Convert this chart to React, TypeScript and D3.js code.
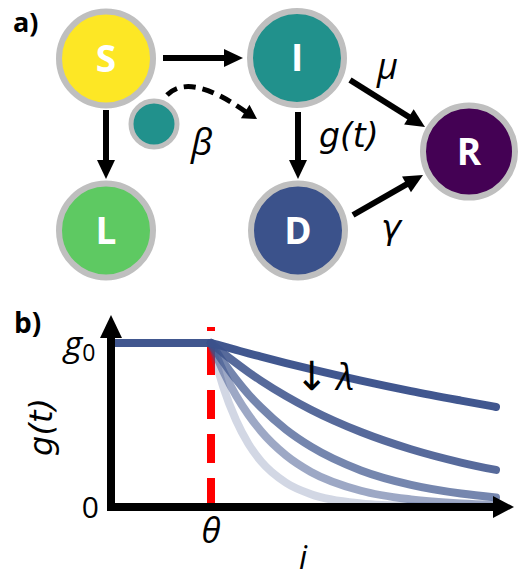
import React from 'react';
import * as d3 from 'd3';

// ---------- Data ----------
const nodeLabels = ['S', 'I', 'L', 'D', 'R'];
const nodeColors = ['#fde725', '#21918c', '#5ec962', '#3b528b', '#440154'];
const rateLabels = ['β', 'μ', 'g(t)', 'γ'];

// panel b: g(t)/g0, one series per decay rate λ
const flatI = [0, 1.0];
const flatG = [1, 1];
const decayI = [1.0, 1.125, 1.25, 1.375, 1.5, 1.75, 2.0, 2.5, 3.0, 3.5, 3.85];
const curveA = [1, 0.979, 0.958, 0.937, 0.917, 0.878, 0.841, 0.771, 0.707, 0.649, 0.61];
const curveB = [1, 0.937, 0.878, 0.822, 0.77, 0.676, 0.593, 0.457, 0.352, 0.271, 0.226];
const curveC = [1, 0.882, 0.779, 0.687, 0.607, 0.472, 0.368, 0.223, 0.135, 0.082, 0.058];
const curveD = [1, 0.825, 0.68, 0.562, 0.463, 0.315, 0.214, 0.099, 0.046, 0.021, 0.012];
const curveE = [1, 0.727, 0.529, 0.384, 0.279, 0.148, 0.078, 0.022, 0.006, 0.002, 0.001];
const curveOpacities = [1, 0.86, 0.7, 0.5, 0.23];
const thetaValue = 1.0;
const yTickLabels = ['0', 'g'];
const xTickLabel = 'θ';
const xAxisLabel = 'i';
const yAxisLabel = 'g(t)';
const lambdaLabel = 'λ';

// ---------- Layout ----------
const nodePos: Record<string, [number, number, number]> = {
  S: [106, 58.5, 47],
  I: [297, 58, 47],
  L: [106, 230.5, 47],
  D: [298, 230.5, 47],
  R: [469, 151.5, 46],
};
const ringColor = '#bfbfbf';
const mathFont = "'Open Sans', 'DejaVu Sans', sans-serif";
const wideMath = "'DejaVu Sans', 'Open Sans', sans-serif";

function Arrow({ x1, y1, x2, y2, w = 6, hl = 19, hw = 9 }: any) {
  const dx = x2 - x1, dy = y2 - y1;
  const L = Math.hypot(dx, dy);
  const ux = dx / L, uy = dy / L;
  const bx = x2 - ux * hl, by = y2 - uy * hl;
  const px = -uy, py = ux;
  const pts = [
    [x2, y2],
    [bx + px * hw, by + py * hw],
    [bx - px * hw, by - py * hw],
  ];
  return (
    <g>
      <line x1={x1} y1={y1} x2={bx + ux * 2} y2={by + uy * 2} stroke="#000" strokeWidth={w} />
      <polygon points={pts.map((p) => p.join(',')).join(' ')} fill="#000" />
    </g>
  );
}

export default function App() {
  const x = d3.scaleLinear().domain([0, 4]).range([111, 511]);
  const y = d3.scaleLinear().domain([0, 1]).range([507, 343]);
  const line = d3
    .line<[number, number]>()
    .x((d) => x(d[0]))
    .y((d) => y(d[1]))
    .curve(d3.curveMonotoneX);
  const curves = [curveA, curveB, curveC, curveD, curveE];
  const base = '#3b528b';

  // dashed curved arrow (S infected by I contact)
  const dStart: [number, number] = [167, 95];
  const dCtrl: [number, number] = [190, 72];
  const dEnd: [number, number] = [246, 112];
  const tip: [number, number] = [257, 119];
  const tdx = tip[0] - dEnd[0], tdy = tip[1] - dEnd[1];
  const tl = Math.hypot(tdx, tdy);
  const tux = tdx / tl, tuy = tdy / tl;
  const hb: [number, number] = [tip[0] - tux * 14, tip[1] - tuy * 14];
  const headPts = [tip, [hb[0] - tuy * 8, hb[1] + tux * 8], [hb[0] + tuy * 8, hb[1] - tux * 8]];

  const x0 = x(0), y0 = y(0);

  return (
    <svg width={521} height={580} style={{ position: 'absolute', left: 0, top: 0 }}>
      <rect width={521} height={580} fill="#fff" />
      {/* ---------- panel a ---------- */}
      <text x={13} y={32} fontFamily="'Open Sans', sans-serif" fontWeight={700} fontSize={27}>a)</text>

      <Arrow x1={163} y1={58} x2={243} y2={58} />
      <Arrow x1={106} y1={110} x2={106} y2={179} />
      <Arrow x1={298} y1={112} x2={298} y2={179} />
      <Arrow x1={350} y1={80} x2={425} y2={127} />
      <Arrow x1={353} y1={215} x2={423} y2={175} />

      <path
        d={`M${dStart[0]},${dStart[1]} Q${dCtrl[0]},${dCtrl[1]} ${dEnd[0]},${dEnd[1]}`}
        fill="none"
        stroke="#000"
        strokeWidth={5}
        strokeDasharray="12 7"
      />
      <polygon points={headPts.map((p) => p.join(',')).join(' ')} fill="#000" />

      {nodeLabels.map((n, i) => {
        const [cx, cy, r] = nodePos[n];
        return (
          <g key={n}>
            <circle cx={cx} cy={cy} r={r} fill={nodeColors[i]} stroke={ringColor} strokeWidth={6} />
            <text
              x={cx}
              y={cy + 13}
              textAnchor="middle"
              fill="#fff"
              fontFamily="'Open Sans', sans-serif"
              fontWeight={700}
              fontSize={37}
            >
              {n}
            </text>
          </g>
        );
      })}
      <circle cx={154} cy={124} r={23} fill={nodeColors[1]} stroke={ringColor} strokeWidth={5} />

      <text x={191} y={155} fontFamily={mathFont} fontStyle="italic" fontSize={37}>{rateLabels[0]}</text>
      <text x={377} y={79} fontFamily={mathFont} fontStyle="italic" fontSize={36}>{rateLabels[1]}</text>
      <text x={319} y={147} fontFamily={wideMath} fontStyle="italic" fontSize={33}>{rateLabels[2]}</text>
      <text x={381} y={239} fontFamily={wideMath} fontStyle="italic" fontSize={34}>{rateLabels[3]}</text>

      {/* ---------- panel b ---------- */}
      <text x={14} y={333} fontFamily="'Open Sans', sans-serif" fontWeight={700} fontSize={28}>b)</text>

      <line
        x1={x(thetaValue)}
        x2={x(thetaValue)}
        y1={y0}
        y2={327}
        stroke="#ff0000"
        strokeWidth={8}
        strokeDasharray="29 15"
      />

      <path
        d={line(flatI.map((v, i) => [v, flatG[i]]) as [number, number][]) || ''}
        fill="none"
        stroke={base}
        strokeOpacity={0.97}
        strokeWidth={8}
      />
      {curves
        .map((c, k) => ({ c, k }))
        .reverse()
        .map(({ c, k }) => (
          <path
            key={k}
            d={line(decayI.map((v, i) => [v, c[i]]) as [number, number][]) || ''}
            fill="none"
            stroke={base}
            strokeOpacity={curveOpacities[k] * (k === 0 ? 0.97 : 1)}
            strokeWidth={8}
            strokeLinecap="round"
          />
        ))}

      {/* axes */}
      <line x1={x0} y1={y0 + 4} x2={x0} y2={337} stroke="#000" strokeWidth={8} />
      <polygon points={`${x0},315 ${x0 - 11},338 ${x0 + 11},338`} fill="#000" />
      <line x1={x0 - 4} y1={y0} x2={494} y2={y0} stroke="#000" strokeWidth={8} />
      <polygon points={`514,${y0} 493,${y0 - 11} 493,${y0 + 11}`} fill="#000" />

      {/* tick labels */}
      <text x={99} y={518} textAnchor="end" fontFamily={mathFont} fontSize={30}>{yTickLabels[0]}</text>
      <text x={64} y={356} fontFamily={mathFont} fontStyle="italic" fontSize={35}>
        {yTickLabels[1]}
        <tspan fontStyle="normal" fontSize={23} dy={5}>0</tspan>
      </text>
      <text x={x(thetaValue)} y={543} textAnchor="middle" fontFamily={mathFont} fontStyle="italic" fontSize={35}>
        {xTickLabel}
      </text>
      <text x={303} y={569} textAnchor="middle" fontFamily={mathFont} fontStyle="italic" fontSize={32}>
        {xAxisLabel}
      </text>
      <text
        transform={`translate(52, ${427}) rotate(-90)`}
        textAnchor="middle"
        fontFamily={wideMath}
        fontStyle="italic"
        fontSize={32}
      >
        {yAxisLabel}
      </text>
      <text x={295} y={390} fontFamily={mathFont} fontSize={40}>
        ↓
        <tspan dx={8} fontStyle="italic" fontSize={36}>{lambdaLabel}</tspan>
      </text>
    </svg>
  );
}
